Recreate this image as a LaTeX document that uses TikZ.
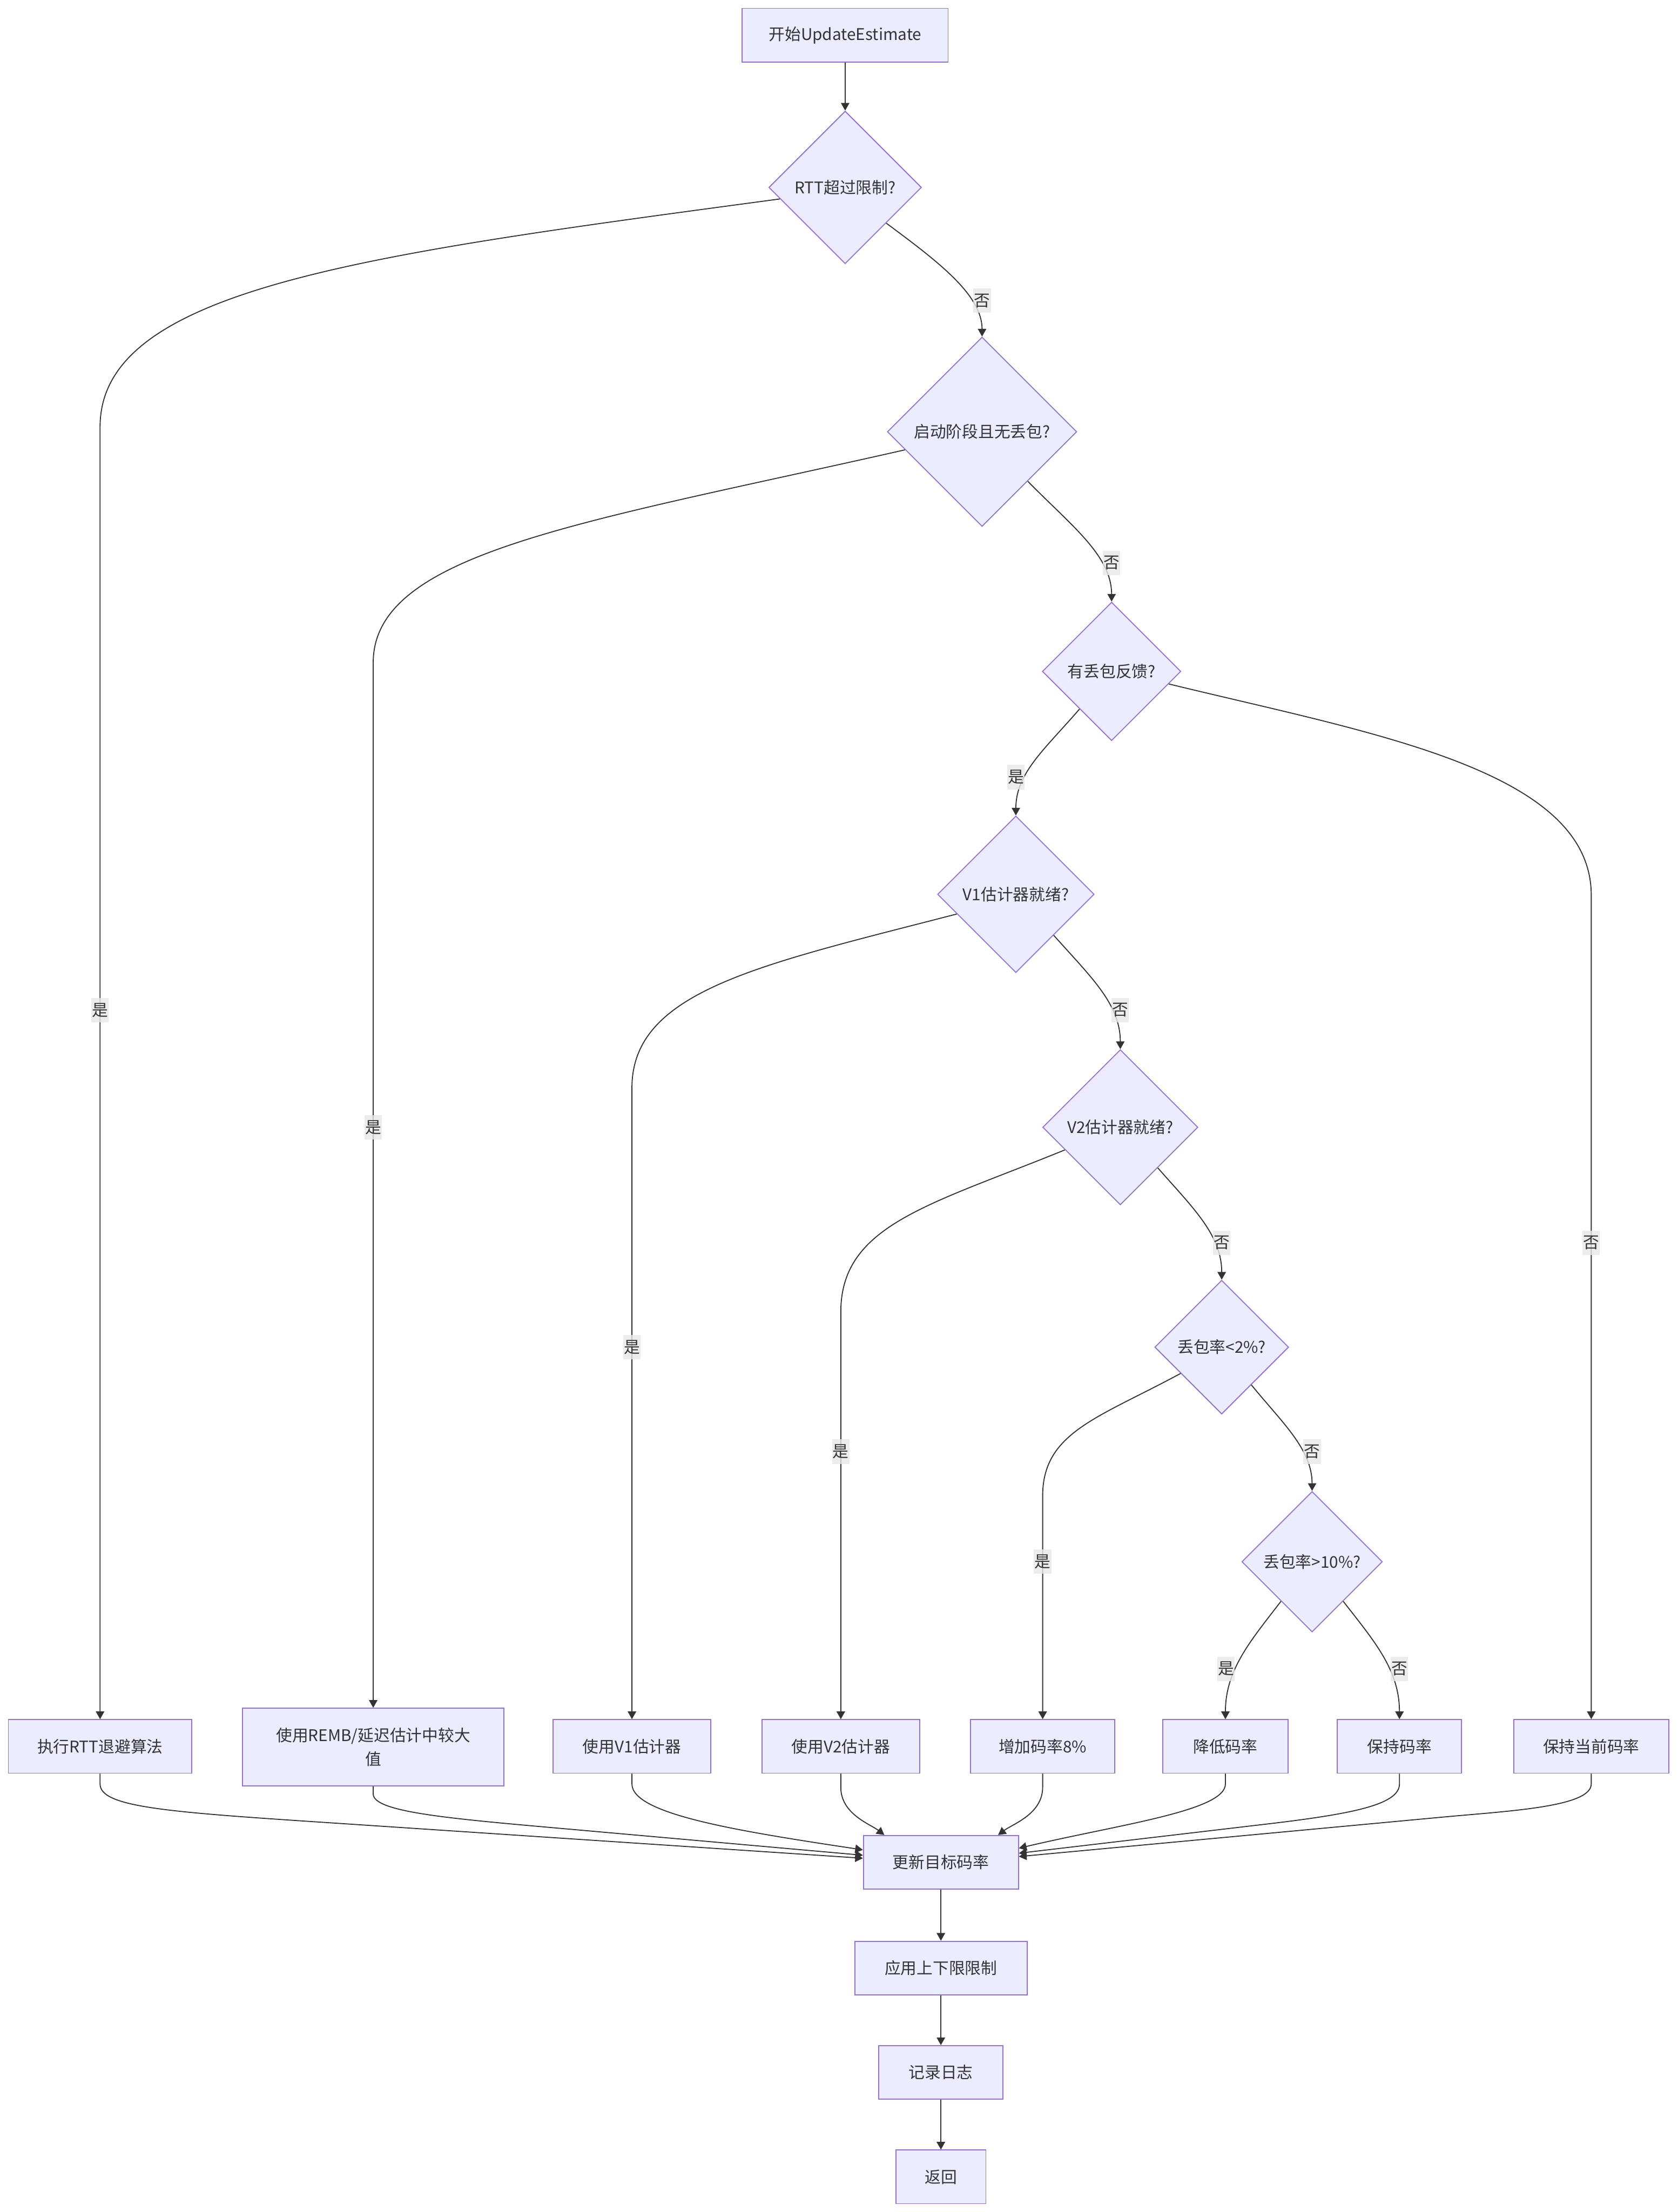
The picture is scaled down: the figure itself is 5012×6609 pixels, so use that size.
\documentclass[tikz,border=0pt]{standalone}
\usepackage{fontspec}
\setmainfont{Noto Sans CJK SC}
\usetikzlibrary{shapes.geometric,arrows.meta,calc}
\definecolor{nodefill}{HTML}{ECECFF}
\definecolor{nodeline}{HTML}{9370DB}
\definecolor{ink}{HTML}{333333}
\definecolor{lblbg}{HTML}{E8E8E8}
\begin{document}
\begin{tikzpicture}[x=0.2pt,y=-0.2pt,
  every node/.style={font=\fontsize{9.6pt}{14.2pt}\selectfont, text=ink},
  box/.style={draw=nodeline, fill=nodefill, line width=0.6pt, rectangle, inner sep=0pt, align=center, minimum height=32pt},
  dec/.style={draw=nodeline, fill=nodefill, line width=0.6pt, diamond, aspect=1, inner sep=0pt},
  link/.style={draw=ink, line width=0.6pt, -{Triangle[length=4.6pt,width=5pt]}},
  lbl/.style={fill=lblbg, fill opacity=0.8, text opacity=1, inner xsep=0.4pt, inner ysep=0pt, minimum height=14.6pt}
]
\fill[white] (0,0) rectangle (5012,6609);
\useasboundingbox (0,0) rectangle (5012,6609);

% nodes
\node[box, minimum width=123pt] (S) at (2525,105) {开始UpdateEstimate};
\node[dec, minimum width=91.2pt, minimum height=91.2pt] (D1) at (2525,560) {RTT超过限制?};
\node[dec, minimum width=113.2pt, minimum height=113.2pt] (D2) at (2934,1290) {启动阶段且无丢包?};
\node[dec, minimum width=82.8pt, minimum height=82.8pt] (D3) at (3321,2006) {有丢包反馈?};
\node[dec, minimum width=93.6pt, minimum height=93.6pt] (D4) at (3035,2672) {V1估计器就绪?};
\node[dec, minimum width=92.8pt, minimum height=92.8pt] (D5) at (3347,3368) {V2估计器就绪?};
\node[dec, minimum width=80pt, minimum height=80pt] (D6) at (3650,4025) {丢包率<2\%?};
\node[dec, minimum width=84pt, minimum height=84pt] (D7) at (3920,4666) {丢包率>10\%?};

\node[box, minimum width=109.6pt] (RTT) at (299,5218) {执行RTT退避算法};
\node[box, minimum width=156pt, minimum height=46.4pt] (REMB) at (1115,5220) {使用REMB/延迟估计中较大\\值};
\node[box, minimum width=94.4pt] (V1) at (1888,5218) {使用V1估计器};
\node[box, minimum width=94.4pt] (V2) at (2512,5218) {使用V2估计器};
\node[box, minimum width=86pt] (INC) at (3115,5218) {增加码率8\%};
\node[box, minimum width=75pt] (DEC) at (3661,5218) {降低码率};
\node[box, minimum width=74.2pt] (KEEP) at (4181,5218) {保持码率};
\node[box, minimum width=92.6pt] (KC) at (4754,5218) {保持当前码率};

\node[box, minimum width=92.6pt] (U) at (2811,5564) {更新目标码率};
\node[box, minimum width=103pt] (A) at (2811,5880) {应用上下限限制};
\node[box, minimum width=74.2pt] (L) at (2811,6192) {记录日志};
\node[box, minimum width=53.8pt] (R) at (2811,6504) {返回};

% edges
\draw[link] (S.south) -- (D1.north);
\draw[link] ($(D1.west)!0.15!(D1.south)$) .. controls (1100,760) and (299,860) .. (299,1275) -- (RTT.north);
\draw[link] ($(D1.east)!0.465!(D1.south)$) .. controls (2800,780) and (2934,880) .. (D2.north);
\draw[link] ($(D2.west)!0.19!(D2.south)$) .. controls (1742,1562) and (1115,1650) .. (1115,1980) -- (REMB.north);
\draw[link] ($(D2.east)!0.52!(D2.south)$) .. controls (3200,1570) and (3321,1660) .. (D3.north);
\draw[link] ($(D3.west)!0.54!(D3.south)$) .. controls (3120,2240) and (3035,2310) .. (D4.north);
\draw[link] ($(D3.east)!0.18!(D3.south)$) .. controls (4100,2192) and (4754,2300) .. (4754,2675) -- (KC.north);
\draw[link] ($(D4.west)!0.25!(D4.south)$) .. controls (2271,2883) and (1888,2960) .. (1888,3250) -- (V1.north);
\draw[link] ($(D4.east)!0.52!(D4.south)$) .. controls (3260,2920) and (3347,3000) .. (D5.north);
\draw[link] ($(D5.west)!0.29!(D5.south)$) .. controls (2776,3601) and (2512,3660) .. (2512,3920) -- (V2.north);
\draw[link] ($(D5.east)!0.52!(D5.south)$) .. controls (3565,3610) and (3650,3690) .. (D6.north);
\draw[link] ($(D6.west)!0.39!(D6.south)$) .. controls (3278,4238) and (3115,4280) .. (3115,4470) -- (INC.north);
\draw[link] ($(D6.east)!0.56!(D6.south)$) .. controls (3830,4250) and (3920,4330) .. (D7.north);
\draw[link] ($(D7.west)!0.56!(D7.south)$) .. controls (3734,4905) and (3661,4990) .. (DEC.north);
\draw[link] ($(D7.east)!0.56!(D7.south)$) .. controls (4107,4905) and (4181,4990) .. (KEEP.north);

\draw[link] (RTT.south) -- (299,5330) .. controls (299,5400) and (500,5414) .. (1000,5447) -- ([yshift=2.4pt]U.west);
\draw[link] (REMB.south) -- (1115,5360) .. controls (1115,5415) and (1350,5434) .. (1700,5465) -- ([yshift=4.2pt]U.west);
\draw[link] (V1.south) -- (1888,5330) .. controls (1888,5420) and (2200,5470) .. ([yshift=7.4pt]U.west);
\draw[link] (V2.south) -- (2512,5340) .. controls (2512,5420) and (2600,5450) .. ([xshift=-33.8pt]U.north);
\draw[link] (INC.south) -- (3115,5340) .. controls (3115,5420) and (3025,5450) .. ([xshift=34.2pt]U.north);
\draw[link] (DEC.south) -- (3661,5330) .. controls (3661,5410) and (3350,5450) .. ([yshift=8.4pt]U.east);
\draw[link] (KEEP.south) -- (4181,5330) .. controls (4181,5390) and (4050,5418) .. (3800,5448) -- ([yshift=5.4pt]U.east);
\draw[link] (KC.south) -- (4754,5330) .. controls (4754,5400) and (4500,5411) .. (4300,5430) -- ([yshift=3.4pt]U.east);

\draw[link] (U.south) -- (A.north);
\draw[link] (A.south) -- (L.north);
\draw[link] (L.south) -- (R.north);

% labels
\node[lbl] (l1) at (299,3018) {是};
\node[lbl] (l2) at (2934,898) {否};
\node[lbl] (l3) at (1115,3368) {是};
\node[lbl] (l4) at (3321,1682) {否};
\node[lbl] (l5) at (3035,2322) {是};
\node[lbl] (l6) at (4754,3713) {否};
\node[lbl] (l7) at (1888,4025) {是};
\node[lbl] (l8) at (3347,3018) {否};
\node[lbl] (l9) at (2512,4337) {是};
\node[lbl] (l10) at (3650,3713) {否};
\node[lbl] (l11) at (3115,4666) {是};
\node[lbl] (l12) at (3920,4337) {否};
\node[lbl] (l13) at (3663,4986) {是};
\node[lbl] (l14) at (4181,4986) {否};
\end{tikzpicture}
\end{document}
